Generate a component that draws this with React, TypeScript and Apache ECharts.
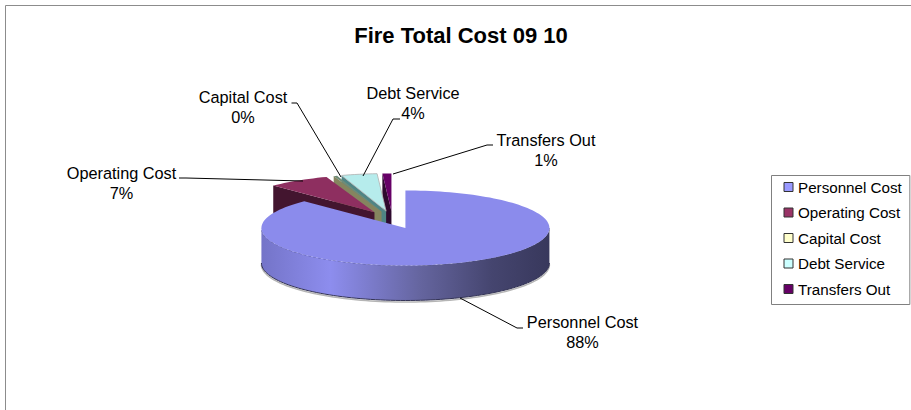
import React, { useEffect, useRef } from "react";
import * as echarts from "echarts";

const titleText = "Fire Total Cost 09 10";
const categories = ["Personnel Cost", "Operating Cost", "Capital Cost", "Debt Service", "Transfers Out"];
const costShares = [87.6, 7, 0.4, 4, 1];
const legendColors = ["#9999FF", "#993366", "#FFFFCC", "#CCFFFF", "#660066"];
const topColors = ["#8B8BEC", "#8E2F60", "#6F8C78", "#B6ECEC", "#660066"];
const cutColors = ["#5A5AA0", "#43152F", "#85855F", "#4F8585", "#2E0A2E"];
// Paint order, back to front: slices nearer the viewer cover the ones behind them.
const paintOrder = [4, 3, 2, 1, 0];

const total = costShares.reduce((a, b) => a + b, 0);
const pie = { cx: 392.5, cy: 219.8, rx: 144, ry: 37.5, depth: 35, explode: 34 };

// Label centre and leader line for each slice.
const labelLayout = [
  { x: 582.5, y: 332, leader: [[523, 328], [517, 328], [460, 298]] },
  { x: 121.5, y: 182.5, leader: [[179, 178], [186, 178], [303, 181]] },
  { x: 243, y: 107, leader: [[291.5, 103], [297, 103], [341, 177]] },
  { x: 413, y: 103, leader: [[400, 119], [393, 119], [363, 176]] },
  { x: 546, y: 150, leader: [[493, 145], [487, 145], [393, 174]] },
];

const toRad = (d: number) => (d * Math.PI) / 180;

function sliceGeometry(index: number) {
  const before = costShares.slice(0, index).reduce((a, b) => a + b, 0);
  const start = (before / total) * 360;
  const end = ((before + costShares[index]) / total) * 360;
  const mid = toRad((start + end) / 2);
  const ax = pie.cx + pie.explode * Math.sin(mid);
  const ay = pie.cy - pie.explode * (pie.ry / pie.rx) * Math.cos(mid);
  const at = (deg: number, dy = 0): number[] => [
    ax + pie.rx * Math.sin(toRad(deg)),
    ay - pie.ry * Math.cos(toRad(deg)) + dy,
  ];
  const arc = (from: number, to: number, dy = 0) => {
    const steps = Math.max(2, Math.ceil(Math.abs(to - from) / 2));
    const pts: number[][] = [];
    for (let i = 0; i <= steps; i++) pts.push(at(from + ((to - from) * i) / steps, dy));
    return pts;
  };
  return { start, end, ax, ay, at, arc };
}

function makeRenderItem(index: number) {
  return () => {
    const g = sliceGeometry(index);
    const d = pie.depth;
    const children: any[] = [];
    const poly = (points: number[][], fill: any, z2: number, extra: any = {}) =>
      children.push({ type: "polygon", z2, shape: { points }, style: { fill, ...extra } });

    // Cut face along the slice's starting edge; the big slice hides its own.
    if (index !== 0) {
      const o = g.at(g.start);
      poly([[g.ax, g.ay], o, [o[0], o[1] + d], [g.ax, g.ay + d]], cutColors[index], 1);
    }
    // Outer wall where the rim faces the viewer.
    if (index === 0) {
      const front = g.arc(90, 270);
      const lower = g.arc(90, 270, d);
      children.push({
        type: "polyline",
        z2: 0,
        shape: { points: g.arc(90, 270, d + 1.5) },
        style: { fill: "none", stroke: "#B5B5B5", lineWidth: 1.5 },
      });
      poly(
        [...front, ...lower.slice().reverse()],
        new echarts.graphic.LinearGradient(0, 0, 1, 0, [
          { offset: 0, color: "#7474C8" },
          { offset: 0.24, color: "#8D8DEE" },
          { offset: 0.55, color: "#65659F" },
          { offset: 0.8, color: "#45456F" },
          { offset: 1, color: "#38385C" },
        ]),
        1
      );
      children.push({
        type: "polyline",
        z2: 2,
        shape: { points: lower },
        style: { fill: "none", stroke: "#333355", lineWidth: 1 },
      });
      children.push({
        type: "polyline",
        z2: 3,
        shape: { points: front },
        style: { fill: "none", stroke: "#4A4A80", lineWidth: 0.6, lineDash: [3, 2] },
      });
    }
    // Top face.
    const border = index === 3 ? { stroke: "#B0B0B0", lineWidth: 0.8 } : {};
    poly([[g.ax, g.ay], ...g.arc(g.start, g.end)], topColors[index], 4, border);

    // Leader line and two-line label.
    const layout = labelLayout[index];
    children.push({
      type: "polyline",
      z2: 5,
      shape: { points: layout.leader },
      style: { fill: "none", stroke: "#000", lineWidth: 1 },
    });
    children.push({
      type: "text",
      z2: 6,
      style: {
        x: layout.x,
        y: layout.y,
        text: `${categories[index]}\n${Math.round((costShares[index] / total) * 100)}%`,
        font: '16.3px "Liberation Sans", Arial, sans-serif',
        lineHeight: 20,
        fill: "#000",
        align: "center",
        verticalAlign: "middle",
      },
    });
    return { type: "group", children };
  };
}

export default function App() {
  const ref = useRef<HTMLDivElement>(null);
  useEffect(() => {
    const chart = echarts.init(ref.current!, undefined, { renderer: "svg" });
    chart.setOption({
      animation: false,
      backgroundColor: "#fff",
      title: {
        text: titleText,
        left: 461,
        top: 24,
        padding: 0,
        textAlign: "center",
        textStyle: { fontFamily: '"Liberation Sans", Arial, sans-serif', fontSize: 22, fontWeight: "bold", color: "#000" },
      },
      legend: {
        orient: "vertical",
        left: 771.5,
        top: 175.5,
        padding: [4, 8, 8, 12],
        borderColor: "#808080",
        borderWidth: 1,
        icon: "rect",
        itemWidth: 9,
        itemHeight: 9,
        itemGap: 10.5,
        selectedMode: false,
        data: categories,
        itemStyle: { borderColor: "#333", borderWidth: 1 },
        textStyle: { fontFamily: '"Liberation Sans", Arial, sans-serif', fontSize: 15.2, lineHeight: 15, color: "#000", padding: 0 },
      },
      graphic: [
        { type: "line", shape: { x1: 5.5, y1: 5.5, x2: 911, y2: 5.5 }, style: { stroke: "#8C8C8C", lineWidth: 1 } },
        { type: "line", shape: { x1: 5.5, y1: 5.5, x2: 5.5, y2: 410 }, style: { stroke: "#8C8C8C", lineWidth: 1 } },
      ],
      series: categories.map((name, i) => ({
        type: "custom",
        name,
        coordinateSystem: "none",
        z: 2 + paintOrder[i],
        itemStyle: { color: legendColors[i] },
        data: [costShares[i]],
        renderItem: makeRenderItem(i),
      })),
    });
    return () => chart.dispose();
  }, []);
  return <div ref={ref} style={{ position: "absolute", left: 0, top: 0, width: 911, height: 410 }} />;
}
